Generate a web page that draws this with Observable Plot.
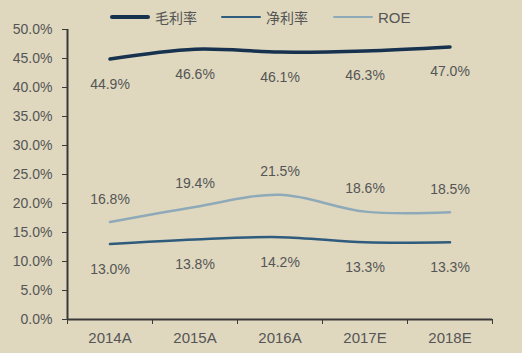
<!DOCTYPE html>
<html><head><meta charset="utf-8">
<script src="https://cdn.jsdelivr.net/npm/d3@7"></script>
<script src="https://cdn.jsdelivr.net/npm/@observablehq/plot@0.6"></script>
<style>
html,body{margin:0;padding:0;background:#dfd8bf;}
#wrap{position:relative;width:522px;height:353px;overflow:hidden;background:#dfd8bf;}
#legend{position:absolute;top:0;left:0;width:522px;height:30px;font-family:"Noto Sans CJK SC","Liberation Sans",sans-serif;font-size:14px;color:#555;}
.item{position:absolute;top:7px;display:flex;align-items:center;height:20px;}
.sw{width:40px;margin-right:5px;border-radius:2px;}
#legend .lat{font-family:"Liberation Sans",Arial,sans-serif;font-size:15px;}
svg text{fill:#555 !important;}
</style>
</head><body>
<div id="wrap"><div id="chart"></div><div id="legend"></div></div>
<script>
const categories = ["2014A","2015A","2016A","2017E","2018E"];
const grossMargin = [44.9, 46.6, 46.1, 46.3, 47.0];
const netMargin = [13.0, 13.8, 14.2, 13.3, 13.3];
const roe = [16.8, 19.4, 21.5, 18.6, 18.5];
const seriesNames = ["毛利率", "净利率", "ROE"];
const yTicks = [0, 5, 10, 15, 20, 25, 30, 35, 40, 45, 50];

const colors = ["#17324f", "#2f5c7c", "#8eaab9"];
const widths = [3.5, 2.5, 2.5];
const labelDy = [25, 25, -23];
const seriesValues = [grossMargin, netMargin, roe];

const rows = seriesValues.map((vals, s) =>
  categories.map((c, i) => ({i, cat: c, v: vals[i] / 100, label: vals[i].toFixed(1) + "%", s})));

const bounds = d3.range(categories.length + 1).map(k => k - 0.5);

const marks = [];
rows.forEach((r, s) => {
  marks.push(Plot.line(r, {x: "i", y: "v", curve: "catmull-rom", stroke: colors[s], strokeWidth: widths[s], strokeLinecap: "round"}));
});
rows.forEach((r, s) => {
  marks.push(Plot.text(r, {x: "i", y: "v", text: "label", dy: labelDy[s], fontSize: 14, fill: "#555"}));
});
marks.push(Plot.text(categories, {x: (d, i) => i, y: () => 0, dy: 19, text: d => d, fontSize: 15, fill: "#555"}));
marks.push(Plot.ruleY([0], {stroke: "#3a3a3a", strokeWidth: 2}));
marks.push(Plot.ruleX([-0.5], {stroke: "#3a3a3a", strokeWidth: 2}));

const chart = Plot.plot({
  width: 522,
  height: 353,
  marginLeft: 67,
  marginRight: 30,
  marginTop: 29,
  marginBottom: 34,
  style: {background: "transparent", fontFamily: "'Liberation Sans', Arial, sans-serif", fontSize: "14px", color: "#3a3a3a"},
  x: {domain: [-0.5, categories.length - 0.5], ticks: bounds, tickFormat: () => "", tickSize: 5, label: null},
  y: {domain: [0, 0.5], ticks: yTicks.map(d => d / 100), tickFormat: d3.format(".1%"), tickSize: 5, tickPadding: 10, label: null},
  marks
});
document.getElementById("chart").appendChild(chart);

const legend = document.getElementById("legend");
const lefts = [110, 221, 333];
seriesNames.forEach((n, s) => {
  const it = document.createElement("div");
  it.className = "item";
  it.style.left = lefts[s] + "px";
  const sw = document.createElement("div");
  sw.className = "sw";
  sw.style.height = widths[s] + "px";
  sw.style.background = colors[s];
  const t = document.createElement("span");
  t.textContent = n;
  if (/^[A-Za-z]+$/.test(n)) t.className = "lat";
  it.appendChild(sw); it.appendChild(t);
  legend.appendChild(it);
});
</script>
</body></html>
